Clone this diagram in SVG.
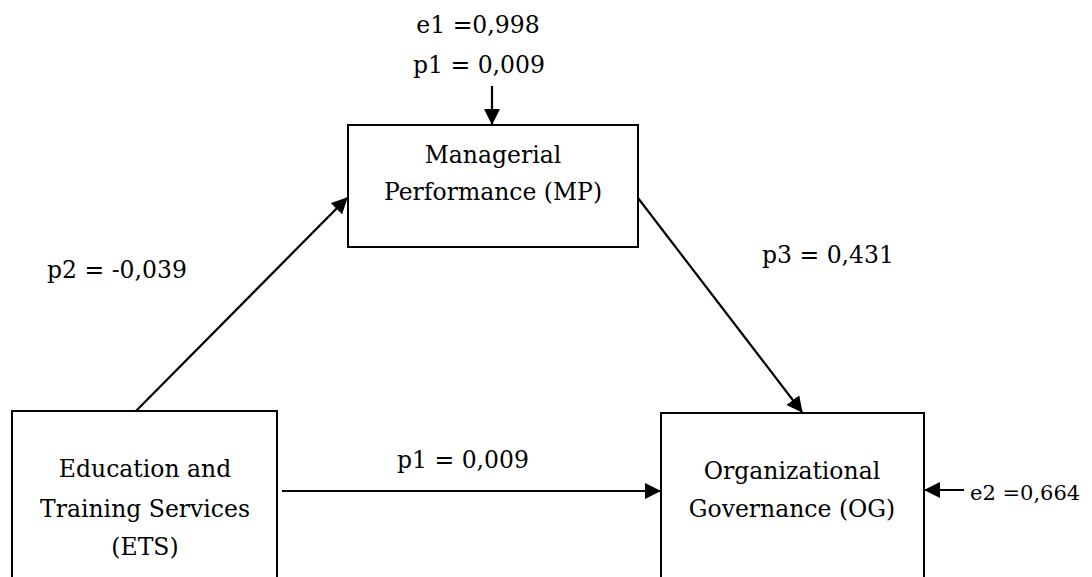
<svg xmlns="http://www.w3.org/2000/svg" width="1092" height="577" viewBox="0 0 1092 577">
<style>
text{font-family:"DejaVu Serif","Liberation Serif",serif;font-size:23.5px;fill:#000}
.c{text-anchor:middle}
.box{fill:#fff;stroke:#000;stroke-width:2}
.ln{stroke:#000;stroke-width:2.2;fill:none;marker-end:url(#ah)}
</style>
<defs>
<marker id="ah" viewBox="0 0 16 16" refX="15" refY="8" markerWidth="16" markerHeight="16" markerUnits="userSpaceOnUse" orient="auto">
<path d="M0,0 L16,8 L0,16 z" fill="#000"/>
</marker>
</defs>
<rect width="1092" height="577" fill="#fff"/>
<g id="connectors">
<line class="ln" x1="136" y1="411" x2="347" y2="198"/>
<line class="ln" x1="638" y1="198" x2="802" y2="412"/>
<line class="ln" x1="282" y1="491" x2="660" y2="491"/>
<line class="ln" x1="492" y1="86" x2="492" y2="124"/>
<line class="ln" x1="964" y1="490" x2="925" y2="490"/>
</g>
<g id="node-mp">
<rect class="box" x="348" y="125" width="290" height="122"/>
<text class="c" x="493" y="163">Managerial</text>
<text class="c" x="493" y="200">Performance (MP)</text>
</g>
<g id="node-ets">
<rect class="box" x="12" y="411" width="265" height="180"/>
<text class="c" x="145" y="477">Education and</text>
<text class="c" x="145" y="517">Training Services</text>
<text class="c" x="145" y="555">(ETS)</text>
</g>
<g id="node-og">
<rect class="box" x="661" y="413" width="263" height="180"/>
<text class="c" x="792" y="479">Organizational</text>
<text class="c" x="792" y="517">Governance (OG)</text>
</g>
<g id="labels">
<text class="c" x="478" y="33">e1 =0,998</text>
<text class="c" x="479" y="73">p1 = 0,009</text>
<text x="47" y="278">p2 = -0,039</text>
<text x="762" y="263">p3 = 0,431</text>
<text x="397" y="468">p1 = 0,009</text>
<text x="970" y="500" style="font-size:21px">e2 =0,664</text>
</g>
</svg>
